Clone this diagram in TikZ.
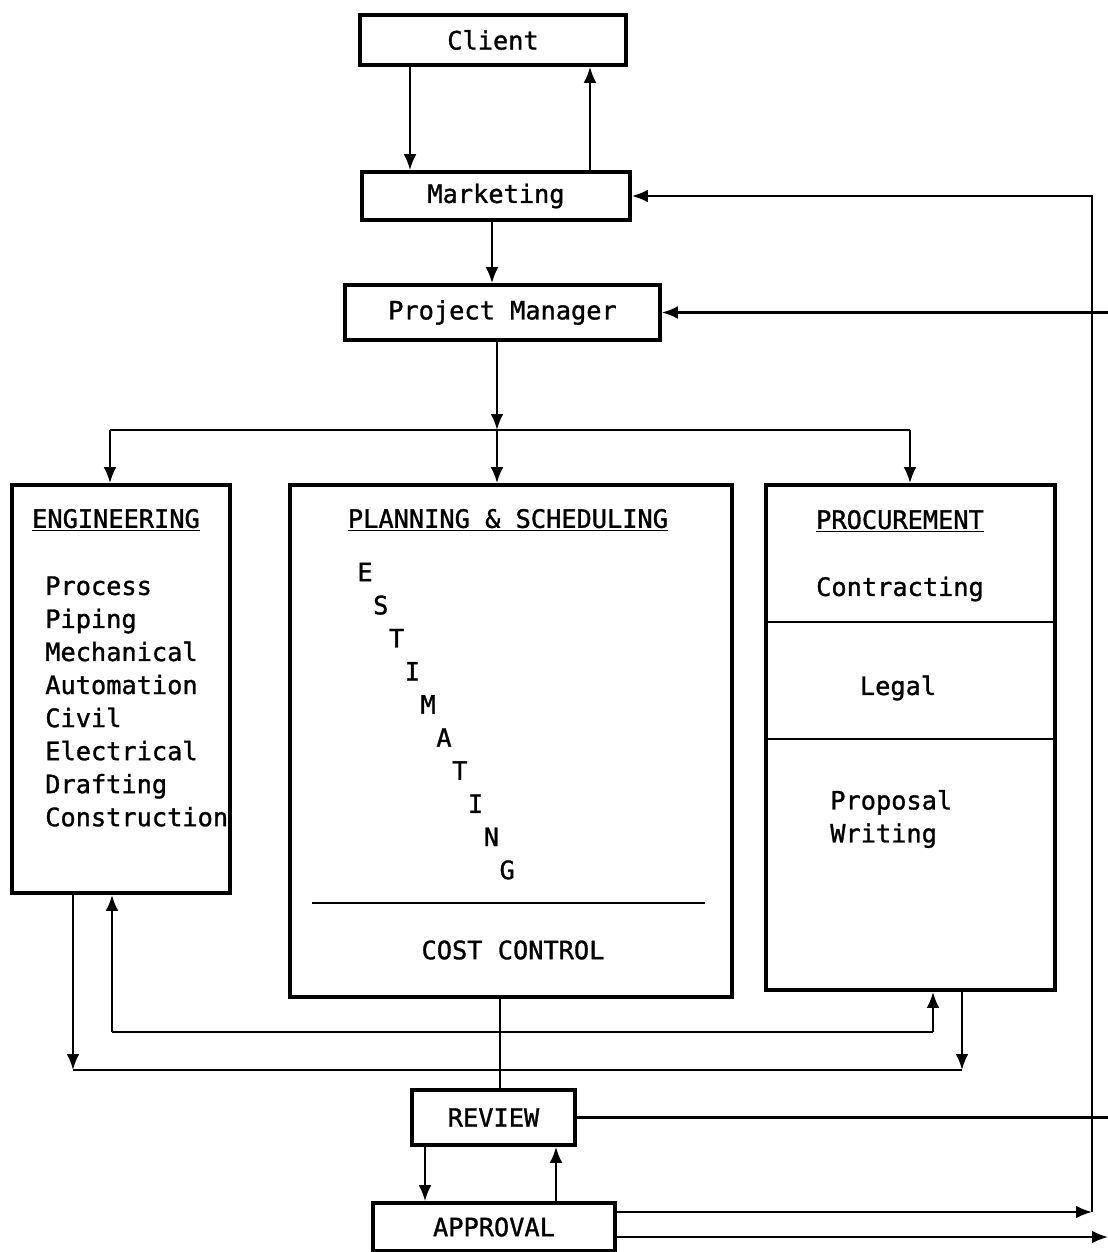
\documentclass[tikz,border=0pt]{standalone}
\usepackage{fontspec}
\setmainfont{DejaVu Sans Mono}[FakeBold=1.2]
\usetikzlibrary{arrows.meta}

\begin{document}
\begin{tikzpicture}[x=0.025cm, y=-0.025cm,
  box/.style={draw, line width=2.6pt, inner sep=0pt,
              font=\fontsize{18}{23.5}\selectfont},
  lbl/.style={inner sep=0pt, font=\fontsize{18}{23.5}\selectfont},
  arr/.style={-{Latex[length=4mm,width=3.2mm]}, line width=1.6pt},
  wire/.style={line width=1.6pt},
  divider/.style={line width=2pt}
]
\useasboundingbox (0,0) rectangle (1108,1252);

% top chain
\node[box, minimum width=6.65cm, minimum height=1.25cm]  (client) at (493,40)   {Client};
\node[box, minimum width=6.7cm,  minimum height=1.2cm]   (mkt)    at (496,196)  {Marketing};
\node[box, minimum width=7.875cm,minimum height=1.375cm] (pm)     at (502.5,312.5) {Project Manager};

% departments
\node[box, minimum width=5.45cm,  minimum height=10.2cm]  (eng)  at (121,689)   {};
\node[box, minimum width=11.05cm, minimum height=12.8cm]  (plan) at (511,741)   {};
\node[box, minimum width=7.225cm, minimum height=12.625cm] (proc) at (910.5,737.5) {};

\node[lbl] (engT) at (116,520) {\underline{ENGINEERING}};
\node[lbl, anchor=west, align=left] (engL) at (45,701.5)
  {Process\\Piping\\Mechanical\\Automation\\Civil\\Electrical\\Drafting\\Construction};

\node[lbl] (planT) at (508,520) {\underline{PLANNING \& SCHEDULING}};
\foreach \ch [count=\i] in {E,S,T,I,M,A,T,I,N,G}
  \node[lbl] (est\i) at ({365+15.8*(\i-1)},{572+33.1*(\i-1)}) {\ch};
\coordinate (cutL) at (312,903);
\coordinate (cutR) at (705,903);
\draw[divider] (cutL) -- (cutR);
\node[lbl] (cost) at (513,950) {COST CONTROL};

\node[lbl] (procT) at (900,521) {\underline{PROCUREMENT}};
\node[lbl] (contr) at (900,589) {Contracting};
\draw[divider] (proc.west |- 0,622) -- (proc.east |- 0,622);
\node[lbl] (legal) at (898,688) {Legal};
\draw[divider] (proc.west |- 0,739) -- (proc.east |- 0,739);
\node[lbl, anchor=west, align=left] (prop) at (830,819) {Proposal\\Writing};

% review / approval
\node[box, minimum width=4.075cm, minimum height=1.375cm] (rev) at (493.5,1117.5) {REVIEW};
\node[box, minimum width=6.05cm,  minimum height=1.2cm]   (apr) at (494,1227)    {APPROVAL};

% x positions of the vertical links
\coordinate (xa) at (410,0);
\coordinate (xb) at (590,0);
\coordinate (xc) at (492,0);
\coordinate (xd) at (425,0);
\coordinate (xe) at (556,0);
\coordinate (xf) at (500,0);

\draw[arr] (client.south -| xa) -- (mkt.north -| xa);
\draw[arr] (mkt.north -| xb) -- (client.south -| xb);
\draw[arr] (mkt.south -| xc) -- (pm.north -| xc);

% distribution bus
\coordinate (split) at (497,430);
\coordinate (busL) at (110,430);
\coordinate (busR) at (910,430);
\draw[arr] (pm.south -| split) -- (split);
\draw[wire] (busL) -- (busR);
\draw[arr] (busL) -- (busL |- eng.north);
\draw[arr] (split) -- (split |- plan.north);
\draw[arr] (busR) -- (busR |- proc.north);

% feedback loops under the departments
\coordinate (fbL) at (112,1032);
\coordinate (fbR) at (933,1032);
\draw[wire] (fbL) -- (fbR);
\draw[arr] (fbL) -- (fbL |- eng.south);
\draw[arr] (fbR) -- (fbR |- proc.south);
\coordinate (outL) at (73,1070);
\coordinate (outR) at (962,1070);
\draw[wire] (outL) -- (outR);
\draw[arr] (outL |- eng.south) -- (outL);
\draw[arr] (outR |- proc.south) -- (outR);
\draw[wire] (plan.south -| xf) -- (rev.north -| xf);

\draw[arr] (rev.south -| xd) -- (apr.north -| xd);
\draw[arr] (apr.north -| xe) -- (rev.south -| xe);

% right-hand return lines
\coordinate (rtop) at (1092,196);
\coordinate (rbot) at (1092,1212);
\coordinate (edgePM) at (1108,312.5);
\coordinate (edgeRv) at (1108,1117.5);
\coordinate (edgeAp) at (1108,1237);
\draw[arr] (rbot) -- (rtop) -- (mkt.east);
\draw[arr] (edgePM) -- (pm.east);
\draw[wire] (rev.east) -- (edgeRv);
\draw[arr] (apr.east |- rbot) -- (rbot);
\draw[arr] (apr.east |- edgeAp) -- (edgeAp);
\end{tikzpicture}
\end{document}
